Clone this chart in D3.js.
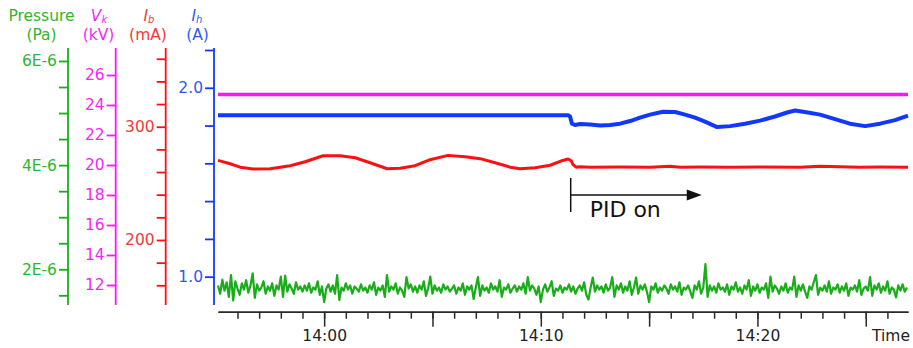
<!DOCTYPE html>
<html>
<head>
<meta charset="utf-8">
<script src="https://cdn.jsdelivr.net/npm/d3@7"></script>
<style>
  body { margin: 0; background: #fff; }
  svg { display: block; font-family: "DejaVu Sans", Verdana, sans-serif; }
</style>
</head>
<body>
<svg id="chart" width="913" height="348"></svg>
<script>
// all times are minutes after 14:00
var vkTime = [-4.9, 26.95];
var vkValues = [24.7, 24.7];

var ihTime = [-4.9, 11.26, 11.35, 11.44, 11.58, 11.81, 12.28, 12.74, 13.20, 13.66, 14.12, 14.58,
    15.04, 15.64, 16.20, 16.66, 17.12, 17.58, 18.14, 18.74, 19.43, 20.12, 20.81, 21.37,
    21.74, 22.33, 22.89, 23.58, 24.27, 24.97, 25.66, 26.35, 26.95];
var ihValues = [1.855, 1.855, 1.848, 1.810, 1.803, 1.808, 1.805, 1.800, 1.803, 1.810, 1.824, 1.842,
    1.858, 1.873, 1.872, 1.858, 1.842, 1.821, 1.792, 1.797, 1.810, 1.826, 1.848, 1.869,
    1.880, 1.869, 1.858, 1.834, 1.810, 1.797, 1.810, 1.829, 1.853];

var ibTime = [-4.9, -4.34, -3.88, -3.28, -2.49, -1.57, -0.88, -0.05, 0.74, 1.43, 2.12, 2.91,
    3.51, 4.20, 4.89, 5.72, 6.51, 7.20, 7.89, 8.58, 9.04, 9.74, 10.43, 10.98, 11.26,
    11.40, 11.49, 11.63, 11.81, 12.28, 13.66, 15.04, 15.97, 16.43, 17.35, 18.74, 20.12,
    21.97, 22.89, 23.81, 24.73, 25.66, 26.95];
var ibValues = [270.3, 267.3, 264.3, 262.7, 262.9, 265.6, 269.1, 274.4, 274.4, 272.6, 268.2, 262.9,
    263.4, 265.6, 270.9, 274.7, 273.5, 271.8, 268.2, 264.3, 262.9, 263.8, 266.0, 270.0, 271.5,
    270.0, 266.5, 264.3, 264.7, 264.3, 264.4, 264.3, 265.1, 264.3, 264.4, 264.3, 264.4,
    264.3, 265.1, 264.7, 264.3, 264.4, 264.3];

// pressure in units of 1E-6 Pa, one reading every 0.1 min
var pressureStart = -4.9;
var pressureStep = 0.1;
var pressureValues = [
    1.69,1.53,1.80,1.59,1.75,1.47,1.89,1.40,1.77,1.63,1.51,1.73,1.61,1.79,1.55,1.69,1.92,1.45,1.71,1.59,
    1.65,1.77,1.53,1.67,1.59,1.73,1.49,1.69,1.61,1.86,1.47,1.88,1.57,1.71,1.63,1.53,1.75,1.61,1.67,1.57,
    1.69,1.59,1.73,1.55,1.65,1.61,1.77,1.51,1.67,1.37,1.63,1.71,1.57,1.69,1.53,1.89,1.41,1.65,1.59,1.73,
    1.61,1.69,1.53,1.67,1.63,1.57,1.71,1.59,1.65,1.55,1.69,1.61,1.75,1.51,1.65,1.59,1.69,1.47,1.89,1.57,
    1.67,1.61,1.73,1.53,1.65,1.59,1.47,1.85,1.63,1.71,1.57,1.67,1.55,1.69,1.61,1.77,1.49,1.63,1.86,1.53,
    1.69,1.59,1.65,1.55,1.71,1.61,1.67,1.57,1.63,1.69,1.53,1.65,1.59,1.73,1.51,1.67,1.61,1.69,1.43,1.65,
    1.85,1.49,1.69,1.59,1.65,1.55,1.73,1.61,1.67,1.57,1.79,1.47,1.65,1.61,1.71,1.55,1.63,1.69,1.57,1.67,
    1.61,1.73,1.53,1.85,1.59,1.69,1.63,1.51,1.67,1.37,1.61,1.71,1.57,1.65,1.77,1.49,1.63,1.59,1.69,1.55,
    1.65,1.61,1.71,1.57,1.67,1.53,1.63,1.69,1.59,1.75,1.51,1.42,1.65,1.84,1.57,1.69,1.61,1.67,1.55,1.71,
    1.59,1.65,1.85,1.47,1.69,1.61,1.73,1.55,1.67,1.59,1.77,1.51,1.65,1.84,1.53,1.69,1.61,1.71,1.57,1.37,
    1.67,1.61,1.73,1.55,1.65,1.59,1.69,1.63,1.53,1.71,1.61,1.67,1.57,1.75,1.51,1.65,1.61,1.69,1.57,1.45,
    1.69,1.61,1.77,1.53,1.65,2.10,1.47,1.69,1.59,1.67,1.55,1.73,1.61,1.65,1.57,1.71,1.51,1.67,1.61,1.75,
    1.57,1.65,1.53,1.69,1.61,1.79,1.49,1.67,1.59,1.71,1.55,1.65,1.61,1.73,1.45,1.86,1.57,1.69,1.63,1.53,
    1.67,1.59,1.73,1.55,1.65,1.61,1.86,1.47,1.69,1.59,1.71,1.57,1.45,1.67,1.61,1.75,1.89,1.51,1.65,1.59,
    1.69,1.57,1.77,1.53,1.65,1.61,1.71,1.55,1.67,1.59,1.73,1.49,1.65,1.61,1.69,1.57,1.79,1.51,1.63,1.67,
    1.59,1.85,1.49,1.69,1.61,1.73,1.55,1.67,1.59,1.77,1.53,1.65,1.61,1.46,1.69,1.59,1.71,1.57,1.65
];

// axis ticks
var pressureTicks = d3.range(1.5, 6.01, 0.5);
var pressureLabels = [2, 4, 6];
var vkTicks = d3.range(12, 26.1, 2);
var ibTicks = d3.range(160, 361, 20);
var ibLabels = [200, 300];
var ihTicks = [1.0, 1.2, 1.4, 1.6, 1.8, 2.0, 2.2];
var ihLabels = [1.0, 2.0];
var timeDomain = [-4.9, 26.95];
var pidOnTime = 11.38;
var pidArrowEnd = 17.43;

var colors = {
    pressure: "#19ad19", pressureText: "#2fb52f",
    vk: "#ff14ff", vkText: "#f527f5",
    ib: "#ff1010", ibText: "#f03a3a",
    ih: "#1238ff", ihText: "#2f5af0"
};

var svg = d3.select("#chart");
var top_ = 48, bottom = 305;

var base = new Date(2020, 0, 1, 14, 0, 0);
function toDate(t) { return new Date(base.getTime() + t * 60000); }

var x = d3.scaleTime().domain(timeDomain.map(toDate)).range([218, 908]);
var yP = d3.scaleLinear().domain([1.314, 6.249]).range([bottom, top_]);
var yV = d3.scaleLinear().domain([10.667, 27.8]).range([bottom, top_]);
var yIb = d3.scaleLinear().domain([142.6, 369.5]).range([bottom, top_]);
var yIh = d3.scaleLinear().domain([0.85, 2.2]).range([bottom, 50]);

function vAxis(xPos, scale, ticks, fmt, lineColor, textColor) {
    var g = svg.append("g")
        .attr("transform", "translate(" + xPos + ",0)")
        .call(d3.axisLeft(scale).tickValues(ticks).tickFormat(fmt).tickSize(9).tickPadding(2));
    g.attr("font-family", null).attr("font-size", 15.5);
    g.select(".domain").remove();
    g.append("line").attr("y1", top_).attr("y2", bottom);
    g.selectAll("line").attr("stroke", lineColor).attr("stroke-width", 1.8);
    g.selectAll("text").attr("fill", textColor);
    return g;
}

function near(list, d) {
    return list.some(function (v) { return Math.abs(v - d) < 1e-6; });
}

vAxis(68, yP, pressureTicks, function (d) { return near(pressureLabels, d) ? Math.round(d) + "E-6" : ""; },
    colors.pressure, colors.pressureText);
vAxis(115.7, yV, vkTicks, d3.format("d"), colors.vk, colors.vkText);
vAxis(165.7, yIb, ibTicks, function (d) { return near(ibLabels, d) ? d : ""; }, colors.ib, colors.ibText);
vAxis(214, yIh, ihTicks, function (d) { return near(ihLabels, d) ? d3.format(".1f")(d) : ""; },
    colors.ih, colors.ihText);

// axis titles
function title(cx, color, build) {
    var t = svg.append("text").attr("x", cx).attr("y", 21).attr("text-anchor", "middle")
        .attr("fill", color).attr("font-size", 15.5);
    build(t);
}
title(41.5, colors.pressureText, function (t) { t.text("Pressure"); });
title(99, colors.vkText, function (t) {
    t.append("tspan").attr("font-style", "italic").text("V");
    t.append("tspan").attr("font-style", "italic").attr("font-size", 10).attr("dy", 2).text("k");
});
title(149, colors.ibText, function (t) {
    t.append("tspan").attr("font-style", "italic").text("I");
    t.append("tspan").attr("font-style", "italic").attr("font-size", 10).attr("dy", 2).text("b");
});
title(197, colors.ihText, function (t) {
    t.append("tspan").attr("font-style", "italic").text("I");
    t.append("tspan").attr("font-style", "italic").attr("font-size", 10).attr("dy", 2).text("h");
});
[[41.5, "(Pa)", colors.pressureText], [98.5, "(kV)", colors.vkText],
 [148, "(mA)", colors.ibText], [197.5, "(A)", colors.ihText]].forEach(function (u) {
    svg.append("text").attr("x", u[0]).attr("y", 39.5).attr("text-anchor", "middle")
        .attr("fill", u[2]).attr("font-size", 15.5).text(u[1]);
});

// time axis
var axisY = 311.7;
var minor = svg.append("g").attr("transform", "translate(0," + axisY + ")")
    .call(d3.axisBottom(x).ticks(d3.timeMinute.every(1)).tickSize(7).tickSizeOuter(0).tickFormat(""));
var fmt = d3.timeFormat("%H:%M");
var major = svg.append("g").attr("transform", "translate(0," + axisY + ")")
    .call(d3.axisBottom(x).ticks(d3.timeMinute.every(5)).tickSize(15).tickSizeOuter(0).tickPadding(3)
        .tickFormat(function (d) { return d.getMinutes() % 10 === 0 ? fmt(d) : ""; }));
[minor, major].forEach(function (g) {
    g.attr("font-family", null).attr("font-size", 15.5);
    g.selectAll("line, path").attr("stroke", "#2a2a2a").attr("stroke-width", 1.5);
    g.selectAll("text").attr("fill", "#222");
});
svg.append("text").attr("x", 910).attr("y", 341).attr("text-anchor", "end")
    .attr("font-size", 15.5).attr("fill", "#222").text("Time");

// series
function draw(times, values, scale, color, width) {
    var pts = times.map(function (t, i) { return [t, values[i]]; });
    svg.append("path").datum(pts)
        .attr("fill", "none").attr("stroke", color).attr("stroke-width", width)
        .attr("stroke-linejoin", "round")
        .attr("d", d3.line()
            .x(function (d) { return x(toDate(d[0])); })
            .y(function (d) { return scale(d[1]); }));
}
var pressureTime = pressureValues.map(function (v, i) { return pressureStart + i * pressureStep; });
draw(pressureTime, pressureValues, yP, colors.pressure, 2.2);
draw(ibTime, ibValues, yIb, colors.ib, 3);
draw(ihTime, ihValues, yIh, colors.ih, 4);
draw(vkTime, vkValues, yV, colors.vk, 3.5);

// PID annotation
var px = x(toDate(pidOnTime)), ax = x(toDate(pidArrowEnd)), ay = 195;
svg.append("line").attr("x1", px).attr("x2", px).attr("y1", 178).attr("y2", 212)
    .attr("stroke", "#111").attr("stroke-width", 1.5);
svg.append("line").attr("x1", px).attr("x2", ax - 12).attr("y1", ay).attr("y2", ay)
    .attr("stroke", "#111").attr("stroke-width", 1.5);
svg.append("path").attr("d", "M" + ax + "," + ay + "L" + (ax - 15) + "," + (ay - 5.5) + "L" + (ax - 15) + "," + (ay + 5.5) + "Z")
    .attr("fill", "#111");
svg.append("text").attr("x", px + 19).attr("y", 217).attr("font-size", 22).attr("fill", "#111").text("PID on");
</script>
</body>
</html>
